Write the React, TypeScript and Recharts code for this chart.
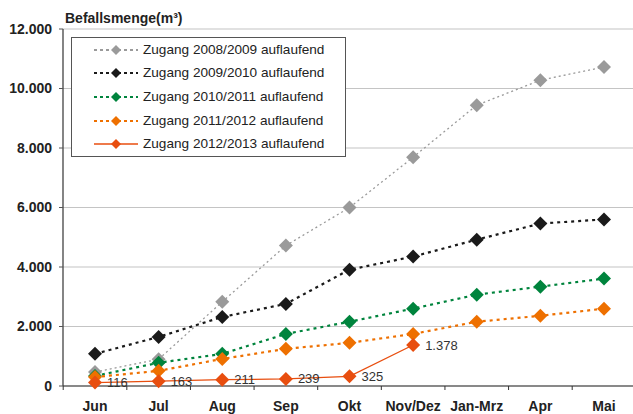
import React from 'react';
import { LineChart, Line, XAxis, YAxis, CartesianGrid, Legend, LabelList, Label } from 'recharts';

const categories = ['Jun', 'Jul', 'Aug', 'Sep', 'Okt', 'Nov/Dez', 'Jan-Mrz', 'Apr', 'Mai'];
const s0809 = [470, 900, 2830, 4720, 6000, 7690, 9440, 10280, 10720];
const s0910 = [1080, 1650, 2320, 2760, 3910, 4350, 4920, 5460, 5600];
const s1011 = [340, 780, 1080, 1750, 2160, 2600, 3070, 3340, 3610];
const s1112 = [300, 510, 910, 1250, 1450, 1750, 2160, 2360, 2600];
const s1213: (number | null)[] = [116, 163, 211, 239, 325, 1378, null, null, null];
const yTicks = [0, 2000, 4000, 6000, 8000, 10000, 12000];

const seriesNames = [
  'Zugang 2008/2009 auflaufend',
  'Zugang 2009/2010 auflaufend',
  'Zugang 2010/2011 auflaufend',
  'Zugang 2011/2012 auflaufend',
  'Zugang 2012/2013 auflaufend',
];

const data = categories.map((c, i) => ({
  cat: c,
  a: s0809[i],
  b: s0910[i],
  c: s1011[i],
  d: s1112[i],
  e: s1213[i],
}));

const FONT = '"Liberation Sans", Arial, sans-serif';
const W = 633;
const H = 414;
const YW = 63;
const PAD_L = 32;
const PAD_R = 29;
const STEP = (W - YW - PAD_L - PAD_R) / (categories.length - 1);

const styles = [
  { key: 'a', color: '#9a9a9a', width: 1.3, dash: '2 3', r: 7 },
  { key: 'b', color: '#1a1a1a', width: 2.2, dash: '3 4', r: 7 },
  { key: 'c', color: '#00843d', width: 2.2, dash: '3 4', r: 7 },
  { key: 'd', color: '#ee7000', width: 2.2, dash: '3 4', r: 7 },
  { key: 'e', color: '#e84e0f', width: 1.3, dash: undefined as string | undefined, r: 7 },
];

const fmt = (v: number) => String(Math.round(v)).replace(/\B(?=(\d{3})+(?!\d))/g, '.');

const makeDot = (color: string, r: number) => (props: any) => {
  const { cx, cy, value } = props;
  if (cy == null || value == null || isNaN(cy)) return <g />;
  return (
    <polygon
      points={`${cx},${cy - r} ${cx + r},${cy} ${cx},${cy + r} ${cx - r},${cy}`}
      fill={color}
      stroke="none"
    />
  );
};

const XTick = (props: any) => {
  const { x, y, payload } = props;
  const bx = x - STEP / 2;
  return (
    <g>
      <line x1={bx} y1={y} x2={bx} y2={y + 4} stroke="#333" strokeWidth={1} />
      <text
        x={x}
        y={y + 20}
        textAnchor="middle"
        dominantBaseline="central"
        fontFamily={FONT}
        fontSize={14}
        fontWeight="bold"
        fill="#222"
      >
        {payload.value}
      </text>
    </g>
  );
};

const LegendBox = () => {
  const rows = [12, 35, 59, 82.5, 106];
  return (
    <div
      style={{
        position: 'relative',
        width: 275,
        height: 120,
        border: '1.5px solid #555',
        boxSizing: 'border-box',
        background: '#fff',
        fontFamily: FONT,
      }}
    >
      {styles.map((s, i) => (
        <div key={s.key} style={{ position: 'absolute', left: 0, top: rows[i] - 10, height: 20, width: 272 }}>
          <svg width={70} height={20} style={{ position: 'absolute', left: 0, top: 0 }}>
            <line
              x1={22}
              y1={10}
              x2={66}
              y2={10}
              stroke={s.color}
              strokeWidth={s.dash ? 2.2 : 1.3}
              strokeDasharray={s.dash ? '3 3' : undefined}
            />
            <polygon points={`44,5 49,10 44,15 39,10`} fill={s.color} />
          </svg>
          <span
            style={{
              position: 'absolute',
              left: 71,
              top: 0,
              lineHeight: '20px',
              fontSize: 13.6,
              color: '#222',
              whiteSpace: 'nowrap',
            }}
          >
            {seriesNames[i]}
          </span>
        </div>
      ))}
    </div>
  );
};

const RedLabel = (props: any) => {
  const { x, y, value } = props;
  if (value == null) return null;
  return (
    <text
      x={x + 12}
      y={y}
      dominantBaseline="central"
      fontFamily={FONT}
      fontSize={13}
      fill="#333"
    >
      {fmt(value)}
    </text>
  );
};

export default function App() {
  return (
    <div style={{ position: 'absolute', left: 0, top: 0, width: W, height: H, background: '#fff' }}>
      <LineChart width={W} height={H} data={data} margin={{ top: 29, right: 0, bottom: 0, left: 0 }}>
        <CartesianGrid vertical={false} stroke="#c4c4c4" strokeWidth={1.2} />
        <XAxis
          dataKey="cat"
          height={28}
          padding={{ left: PAD_L, right: PAD_R }}
          tickSize={0}
          tickMargin={0}
          tickLine={false}
          axisLine={{ stroke: '#333', strokeWidth: 1.2 }}
          tick={<XTick />}
          interval={0}
        />
        <YAxis
          width={YW}
          domain={[0, 12000]}
          ticks={yTicks}
          tickFormatter={fmt}
          tickSize={4}
          tickMargin={7}
          tickLine={{ stroke: '#555' }}
          axisLine={{ stroke: '#333', strokeWidth: 1.2 }}
          tick={{ fontFamily: FONT, fontSize: 14, fontWeight: 'bold', fill: '#222' }}
        >
          <Label
            content={(p: any) => {
              const vb = p.viewBox || { x: 0, y: 29, width: 63 };
              return (
                <text
                  x={vb.x + vb.width + 2}
                  y={vb.y - 11}
                  dominantBaseline="central"
                  fontFamily={FONT}
                  fontSize={14}
                  fontWeight="bold"
                  fill="#222"
                >
                  Befallsmenge(m³)
                </text>
              );
            }}
          />
        </YAxis>
        <Legend
          layout="horizontal"
          verticalAlign="middle"
          align="center"
          content={<LegendBox />}
          wrapperStyle={{ position: 'absolute', left: 71, top: 37, width: 275, height: 120 }}
        />
        {styles.map((s, i) => (
          <Line
            key={s.key}
            type="linear"
            dataKey={s.key}
            name={seriesNames[i]}
            stroke={s.color}
            strokeWidth={s.width}
            strokeDasharray={s.dash}
            dot={makeDot(s.color, s.r)}
            activeDot={false}
            isAnimationActive={false}
          >
            {s.key === 'e' ? <LabelList dataKey="e" content={<RedLabel />} /> : null}
          </Line>
        ))}
      </LineChart>
    </div>
  );
}
